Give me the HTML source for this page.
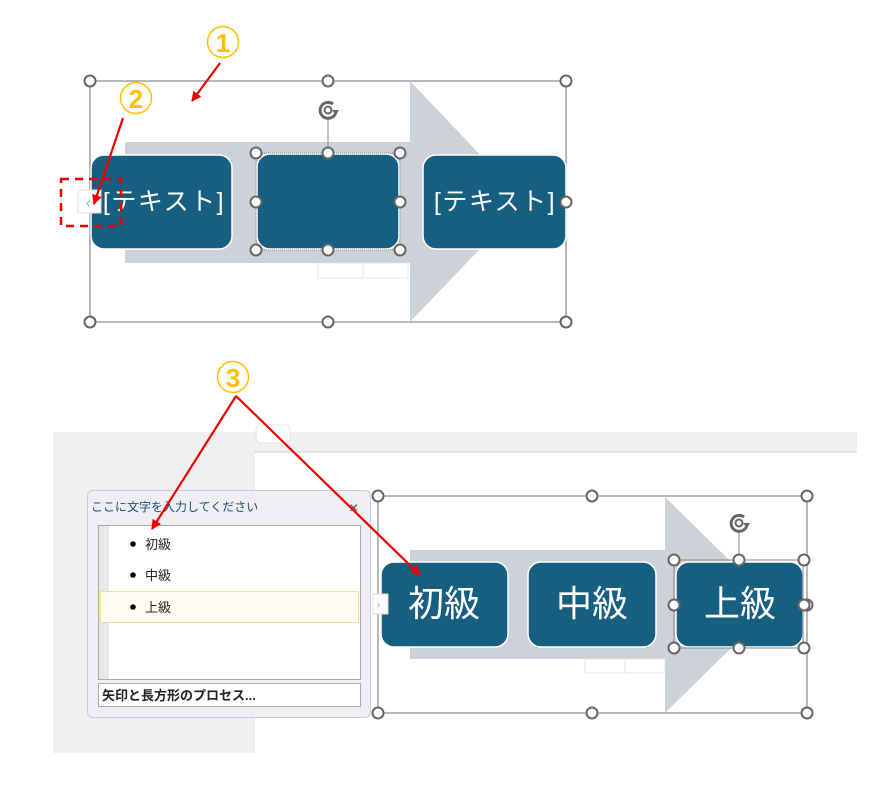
<!DOCTYPE html>
<html><head><meta charset="utf-8"><style>
html,body{margin:0;padding:0;background:#fff;}
svg text{font-family:"Liberation Sans","Noto Sans CJK JP",sans-serif;}
</style></head><body>
<svg width="886" height="793" viewBox="0 0 886 793" xmlns="http://www.w3.org/2000/svg">
<defs>
<marker id="ar" markerWidth="10" markerHeight="10" refX="9" refY="5" orient="auto" markerUnits="userSpaceOnUse" viewBox="0 0 10 10"><path d="M0,0 L10,5 L0,10 Z" fill="#ee0000"/></marker>
<g id="h"><circle r="5.5" fill="#fff" stroke="#666" stroke-width="2"/></g>
<g id="rot"><path d="M5,-6 A8,8 0 1 0 8,2" fill="none" stroke="#666" stroke-width="3"/><path d="M4,0 L11,0 L8,5 Z" fill="#666"/><circle r="3.5" fill="none" stroke="#666" stroke-width="2"/></g>
</defs>
<!-- TOP -->
<rect x="90" y="81" width="476" height="241" fill="none" stroke="#888" stroke-width="1.2"/>
<path d="M125,142 H410 V81 L525,202 L410,322 V263 H125 Z" fill="#cdd1d8"/>
<rect x="318" y="263" width="45" height="15" fill="#fff" stroke="#e4e4e4"/>
<rect x="363" y="263" width="45" height="15" fill="#fff" stroke="#e4e4e4"/>
<rect x="91" y="155" width="141" height="94" rx="13" fill="#175f81" stroke="#fff" stroke-width="1.5"/>
<rect x="257" y="154" width="142" height="95" rx="13" fill="#175f81" stroke="#fff" stroke-width="1.5"/>
<rect x="256" y="153" width="144" height="97" fill="none" stroke="#888" stroke-dasharray="1,1"/>
<rect x="423" y="155" width="143" height="94" rx="13" fill="#175f81" stroke="#fff" stroke-width="1.5"/>
<text x="164" y="210" font-size="25" fill="#fff" text-anchor="middle" letter-spacing="1.5">[テキスト]</text>
<text x="495" y="210" font-size="25" fill="#fff" text-anchor="middle" letter-spacing="1.5">[テキスト]</text>
<line x1="328" y1="118" x2="328" y2="153" stroke="#888"/>
<use href="#rot" x="328" y="110"/>
<use href="#h" x="90" y="81"/><use href="#h" x="328" y="81"/><use href="#h" x="566" y="81"/>
<use href="#h" x="90" y="322"/><use href="#h" x="328" y="322"/><use href="#h" x="566" y="322"/>
<use href="#h" x="566" y="202"/>
<use href="#h" x="256" y="153"/><use href="#h" x="328" y="153"/><use href="#h" x="400" y="153"/>
<use href="#h" x="256" y="202"/><use href="#h" x="400" y="202"/>
<use href="#h" x="256" y="250"/><use href="#h" x="328" y="250"/><use href="#h" x="400" y="250"/>
<rect x="78" y="190" width="23" height="23" fill="#fff" stroke="#ddd"/>
<text x="86" y="207" font-size="13" fill="#999">‹</text>
<rect x="61" y="179" width="60" height="47" fill="none" stroke="#e00" stroke-width="2.5" stroke-dasharray="8,6"/>
<circle cx="223" cy="42" r="15.5" fill="none" stroke="#ffc000" stroke-width="1.5"/>
<text x="223" y="52" font-size="26" font-weight="bold" fill="#ffc000" text-anchor="middle">1</text>
<line x1="220" y1="63" x2="192" y2="101" stroke="#e00" stroke-width="2.2" marker-end="url(#ar)"/>
<circle cx="136" cy="98" r="15.5" fill="none" stroke="#ffc000" stroke-width="1.5"/>
<text x="136" y="108" font-size="26" font-weight="bold" fill="#ffc000" text-anchor="middle">2</text>
<line x1="123" y1="118" x2="94" y2="204" stroke="#e00" stroke-width="2.2" marker-end="url(#ar)"/>
<!-- BOTTOM -->
<rect x="53" y="432" width="804" height="321" fill="#f0f0f0"/>
<rect x="254" y="452" width="603" height="301" fill="#fff"/>
<line x1="254" y1="452" x2="857" y2="452" stroke="#ddd" stroke-width="1.5"/>
<line x1="254" y1="452" x2="254" y2="753" stroke="#e4e4e4"/>
<rect x="256" y="425" width="34" height="18" rx="5" fill="#fff" stroke="#e4e4e4"/>
<rect x="378" y="496" width="429" height="217" fill="none" stroke="#888" stroke-width="1.2"/>
<path d="M410,550 H665 V497 L775,605 L665,713 V659 H410 Z" fill="#cdd1d8"/>
<rect x="585" y="659" width="40" height="14" fill="#fff" stroke="#e4e4e4"/>
<rect x="625" y="659" width="40" height="14" fill="#fff" stroke="#e4e4e4"/>
<rect x="381" y="562" width="127" height="85" rx="13" fill="#175f81" stroke="#fff" stroke-width="1.5"/>
<rect x="528" y="562" width="128" height="85" rx="13" fill="#175f81" stroke="#fff" stroke-width="1.5"/>
<rect x="676" y="562" width="127" height="85" rx="13" fill="#175f81" stroke="#fff" stroke-width="1.5"/>
<rect x="674" y="560" width="129" height="88" fill="none" stroke="#888"/>
<text x="444" y="616" font-size="36" fill="#fff" text-anchor="middle">初級</text>
<text x="592" y="616" font-size="36" fill="#fff" text-anchor="middle">中級</text>
<text x="740" y="616" font-size="36" fill="#fff" text-anchor="middle">上級</text>
<line x1="739" y1="531" x2="739" y2="560" stroke="#888"/>
<use href="#rot" x="739" y="523"/>
<use href="#h" x="378" y="496"/><use href="#h" x="592" y="496"/><use href="#h" x="807" y="496"/>
<use href="#h" x="378" y="713"/><use href="#h" x="592" y="713"/><use href="#h" x="807" y="713"/>
<use href="#h" x="807" y="605"/>
<use href="#h" x="674" y="560"/><use href="#h" x="739" y="560"/><use href="#h" x="804" y="560"/>
<use href="#h" x="674" y="605"/><use href="#h" x="804" y="605"/>
<use href="#h" x="674" y="648"/><use href="#h" x="739" y="648"/><use href="#h" x="804" y="648"/>
<rect x="373" y="594" width="15" height="20" fill="#fff" stroke="#ddd"/>
<text x="377" y="608" font-size="10" fill="#999">›</text>
<!-- panel -->
<rect x="87.5" y="490.5" width="283" height="227" rx="5" fill="#eeeef3" stroke="#ccd"/>
<text x="91" y="511" font-size="12" fill="#1f4e79">ここに文字を入力してください</text>
<text x="349" y="513" font-size="16" fill="#444">×</text>
<rect x="98.5" y="525.5" width="262" height="154" fill="#fff" stroke="#aaa"/>
<rect x="99" y="526" width="10" height="153" fill="#e8e8e8"/>
<rect x="100.5" y="591.5" width="258" height="31" fill="#fffdf2" stroke="#ffd98a"/>
<circle cx="133" cy="544" r="2.8" fill="#000"/><text x="145" y="549" font-size="13" fill="#222">初級</text>
<circle cx="133" cy="575" r="2.8" fill="#000"/><text x="145" y="580" font-size="13" fill="#222">中級</text>
<circle cx="133" cy="607" r="2.8" fill="#000"/><text x="145" y="612" font-size="13" fill="#222">上級</text>
<rect x="98.5" y="683.5" width="262" height="23" fill="#fff" stroke="#aaa"/>
<text x="102" y="700" font-size="13" font-weight="bold" fill="#222">矢印と長方形のプロセス...</text>
<circle cx="233" cy="377" r="15.5" fill="none" stroke="#ffc000" stroke-width="1.5"/>
<text x="233" y="387" font-size="26" font-weight="bold" fill="#ffc000" text-anchor="middle">3</text>
<line x1="236" y1="396" x2="152" y2="529" stroke="#e00" stroke-width="2.2" marker-end="url(#ar)"/>
<line x1="236" y1="396" x2="420" y2="575" stroke="#e00" stroke-width="2.2" marker-end="url(#ar)"/>
</svg>
</body></html>
